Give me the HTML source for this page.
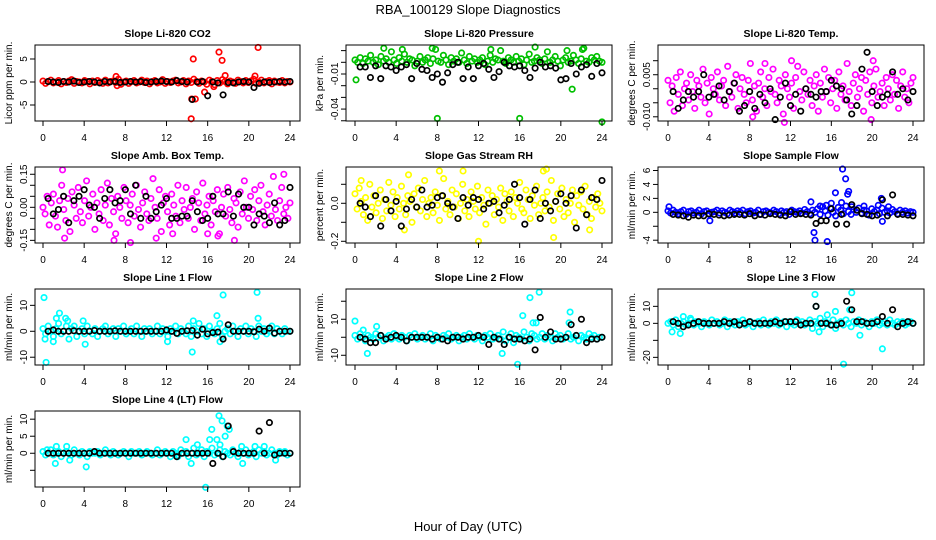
<!DOCTYPE html>
<html><head><meta charset="utf-8"><title>RBA_100129 Slope Diagnostics</title>
<style>
html,body{margin:0;padding:0;background:#fff;}
svg{display:block;font-family:"Liberation Sans",Arial,sans-serif;}
</style></head>
<body>
<svg id="chart" width="936" height="540" viewBox="0 0 936 540" xmlns="http://www.w3.org/2000/svg">
<rect width="936" height="540" fill="#fff"/>
<text x="468" y="14" text-anchor="middle" font-size="13">RBA_100129  Slope Diagnostics</text>
<text x="468" y="531" text-anchor="middle" font-size="13">Hour of Day (UTC)</text>
<g id="panels"></g>
</svg>
<script>
const xTicks = [0,4,8,12,16,20,24];

const co2Band = [0.2,-0.3,0.1,0.4,-0.2,0.0,0.3,-0.4,0.1,-0.1,0.2,0.5,-0.3,0.1,0.0,-0.2,0.3,0.1,-0.4,0.2,-0.1,0.3,0.0,-0.3,0.4,-0.2,0.1,0.2,-0.1,0.6,-0.5,0.0,0.2,-0.3,0.1,0.3,-0.2,0.0,0.4,-0.1,0.2,-0.4,0.1,0.3,-0.2,0.0,0.5,-0.3,0.1,-0.1,0.2,0.4,-0.2,0.0,0.3,-0.4,0.2,-0.1,0.6,0.1,-0.3,0.2,0.0,-0.5,0.4,0.1,-0.6,0.3,-0.2,0.5,0.1,-0.4,0.2,0.0,-0.3,0.4,0.1,-0.2,0.3,-0.1,0.2,0.6,-0.3,0.0,0.4,-0.2,0.1,0.3,-0.4,0.2,0.0,-0.1,0.3,-0.2,0.1,0.0];
const co2OutHours = [7.1,7.2,14.4,14.45,14.6,14.8,15.7,16.6,17.1,17.4,17.7,20.6,20.9];
const co2OutVals = [1.2,-0.8,-8,-3.7,5,-3.7,-2.2,-1,6.5,4.7,1.4,1.3,7.5];
const co2Black = [0.1,0,-0.1,0.1,0,0.2,-0.1,0, 0.1,0,-0.2,0.1,0,0.1,-0.1,0, 0.1,0,0.1,-0.1,0,0.1,0.2,0.1, 0,0.3,0.1,0,-3.8,0,0.1,-3, 0,-0.2,-2.8,-0.1,-0.2,0,0.1,0, -1.2,-0.3,0,-0.1,0,0.1,0,0.1];

const presBand = [2,0,4,-1,3,1,6,0,2,-2,5,1,3,0,9,2,-1,4,1,7,0,3,2,-3,1,5,0,2,4,-1,3,11,1,0,6,2,-2,4,1,3,0,8,2,-1,5,1,3,0,2,4,-2,1,6,0,3,2,10,1,-1,4,2,0,5,1,3,-2,2,7,0,1,4,2,-1,3,9,0,2,5,1,-3,2,4,0,1,6,2,-1,3,12,1,0,4,2,5,1,0];
const presOutHours = [0.1,8,16,24,21.1,17.5,22.1,20.6,2.8,7.5,13.2,4.6];
const presOutVals = [-15,-48,-48,-51,-23,13,11,10,12,12,11,11];
const presBlack = [-4,-4,-13,-3,-14,-3,-4,-7, -4,-2,-14,-1,-6,-7,-13,-10, -17,-9,-2,0,-14,-4,-14,-3, -1,-6,-13,-8,0,-3,-4,-3, -7,-13,-5,0,-4,-3,-5,-15, -14,-1,-10,-4,-2,-12,-1,-9];

const tempBand = [3,-5,1,-8,4,-2,6,-6,0,2,-4,5,-1,-7,3,1,-3,7,-5,2,-9,4,0,-2,6,-4,1,3,-6,8,-1,-3,2,5,-7,0,4,-2,-5,3,9,-4,1,-8,2,6,-3,0,-6,4,-1,7,-2,-5,3,1,-9,5,0,-3,2,-7,4,8,-1,-4,6,0,-2,3,-6,1,5,-8,2,-3,7,-1,4,-5,0,3,-7,6,-2,1,-4,9,-1,-6,2,5,-3,0,4,-8,3,-2,6,-5,1,7,-3,-1,2,-6,4,0,-4,5,-2,3,-7,1,6,-3,0,-5,2,4];
const tempOutHours = [11.4,12.1,9.5,20.1,19.9,8.3];
const tempOutVals = [-12,10,9,10,-11,-10];
const tempBlack = [-1,-7,-4,-1,-3,-1,5,-3, -2,1,-4,-1,2,-8,-6,-1, -7,-2,-5,0,-11,-3,2,-6, -2,-8,0,-2,-3,-1,-1,3, 1,0,-4,-9,-6,7,13,-1, -6,-3,-2,6,-2,0,-4,-1];

const ambBand = [0,-3,5,-8,2,6,-4,-9,3,10,-1,-6,4,-11,7,1,-5,9,-2,-7,3,12,-4,0,6,-10,2,-3,8,-6,1,11,-8,4,-2,-12,5,0,-5,9,3,-7,1,6,-4,10,-1,-9,2,7,-3,-6,4,13,0,-5,8,-11,2,5,-2,-8,6,1,-4,10,-7,3,-1,9,-5,0,4,-10,7,2,-6,11,-3,1,5,-8,3,-2,8,-12,0,6,-4,9,-1,-7,4,2,-9,7,-3,12,0,-5,5,-1,8,-6,3,10,-2,-8,1,6,-4,14,-1,-6,3,9,-3,0,-5,2];
const ambOutHours = [1.9,2.1,6.9,8.5,11,12.6,18.6,23.4,16,17];
const ambOutVals = [17,-14,-15,-16,-14,-12,-15,15,-12,-13];
const ambBlack = [4,-3,-1,5,-7,3,5,8, 1,0,-5,4,8,2,3,8, -3,10,-5,5,-5,-2,1,4, -5,-5,-4,-4,3,-2,-6,-5, 5,-3,-3,7,-4,6,0,0, -8,-3,-4,-7,2,-8,-6,9];

const rhBand = [5,-3,8,1,-6,3,-9,10,-2,4,-5,0,7,-8,2,-4,11,-1,6,-7,3,-3,9,0,-6,4,1,-10,5,-2,8,-4,2,12,-7,0,3,-5,6,-1,-9,4,13,-3,1,-6,7,-2,5,-8,0,10,-4,2,-7,6,1,-3,9,-5,3,-1,-11,7,0,4,-6,2,-2,8,-9,5,1,-4,6,-7,3,0,11,-3,-5,7,2,-8,4,-1,9,-6,0,3,-4,6,-2,12,-9,1,5,-3,8,-7,2,-5,0,7,-10,4,-1,6,-3,9,-6,1,-8,3,-2,5,0,-4];
const rhOutHours = [4.8,5.2,8.2,10.5,12.0,18.3,18.6,19.3,22.8,0.6];
const rhOutVals = [-14,15,17,17,-20,17,18,-18,-14,12];
const rhBlack = [0,-2,-7,4,-12,2,-4,1, -12,-3,2,-2,7,-2,-1,3, 4,0,-2,-8,3,-1,3,2, -3,0,1,-5,-1,2,10,3, -11,2,7,-8,0,-4,1,5, 0,4,-13,7,-6,3,2,12];

const sfBand = [0.2,-0.1,0.3,0,-0.2,0.1,0.3,-0.3,0.1,0.2,-0.1,0,0.3,-0.2,0.1,0.2,-0.3,0,0.1,0.3,-0.1,0.2,0,-0.2,0.3,0.1,-0.1,0.2,0,0.3,-0.2,0.1,0.2,-0.1,0,0.3,-0.3,0.1,0.2,0,-0.1,0.3,0.1,-0.2,0.2,0,0.1,-0.3,0.3,0.1,0,0.2,-0.1,0.4,0.1,-0.2,0.3,0,0.5,-0.3,0.8,0.2,-0.4,0.6,0,-0.5,0.7,0.3,-0.2,0.9,0.1,-0.3,0.4,0,0.6,-0.1,0.3,0.2,-0.4,0.5,0.1,0.3,-0.2,0.6,0,0.2,-0.1,0.4,0.1,-0.2,0.3,0,0.2,-0.1,0.1,0];
const sfOutHours = [0.1,4.1,14.0,14.3,14.4,15.5,15.6,16.0,16.4,17.0,17.1,17.4,17.6,17.7,18.0,19.2,20.6,20.9,21.0,21.6,14.9];
const sfOutVals = [0.8,-1.2,1.5,-2.9,-4,1.0,-4.2,1.3,2.8,1.4,6.2,4.8,2.6,3.0,0.8,0.9,1,2,-1.3,0.8,0.9];
const sfBlack = [-0.3,-0.4,-0.5,-0.7,-0.4,-0.5,-0.5,-0.2, -0.3,-0.4,-0.5,-0.4,-0.3,-0.3,-0.4,-0.2, -0.5,-0.3,-0.4,-0.2,-0.3,-0.4,-0.5,0.1, -0.3,-0.2,-0.3,-0.4,-1.6,-1.2,-1.2,0.5, -1.7,-0.3,-1.7,1.1,0.3,-0.2,-0.3,-0.5, -0.4,1.8,-0.5,2.5,-0.3,-0.3,-0.4,-0.5];

const l1Band = [1,-1,2,0,-2,1,3,-1,0,2,-3,1,2,-2,0,1,-1,2,0,-1,1,-2,0,1,2,-1,0,1,-2,1,0,2,-1,0,1,-1,2,0,-2,1,0,1,-1,0,2,-1,1,0,-2,1,0,2,-1,1,0,-1,2,-2,1,0,3,-1,1,-2,2,0,-1,1,3,-2,0,1,-1,2,0,-2,1,0,2,-1,1,0,-2,2,0,1,-1,0,2,-1,1,0,-1,1,0,0];
const l1OutHours = [0.1,0.2,0.3,1.3,1.6,2.2,2.4,3.9,4.1,1.0,14.5,12.1,16.9,17.5,20.8,20.9,17.2,14.6];
const l1OutVals = [13,-3,-12,5,7,5,4,4,-5,-4,-8,-4,6,14,15,5,-4,4];
const l1Black = [0,0.5,0,0,0,0.2,0,0, 0,0.3,0,0,0,0.2,0,0, 0,0,0,0,0,0,0,0.5, 0,-0.8,0,0.2,0.3,-1.5,0.8,-1, -0.5,-0.3,-3,2.5,0,0,0,0, -0.2,0.8,0,1.2,-0.7,0,0,0];

const l2Band = [1,-1,2,0,-2,1,0,-1,2,0,1,-2,0,1,-1,2,0,-1,1,0,-2,1,0,2,-1,0,1,-1,0,2,-2,1,0,-1,1,0,2,-1,0,1,-2,0,1,-1,2,0,-1,1,0,-2,1,0,2,-1,0,1,-1,3,-2,0,2,-3,1,0,-1,3,0,-2,2,1,-1,0,2,-1,1,0,-2,2,0,1,-1,0,2,-1,0,1,-2,1,0,-1,2,0,1,-1,0,0];
const l2OutHours = [0,1.2,2.1,14.3,15.8,16.3,17.0,17.3,17.6,17.9,20.8,20.9,0.8];
const l2OutVals = [9,-9,6,-9,-15,12,22,8,8,25,8,14,4];
const l2Black = [0,-1,-3,-3,1,-1,0,1, 0,-2,0,0,0,0,-1,0, -1,-2,0,0,-1,0,0,1, 0,-4,0,-1,-4,0,-1,-1, -2,-1,-7,11,0,3,-1,-1, 0,7,1,10,-3,-1,-1,0];

const l3Band = [0,1,-1,2,-2,0,1,-1,0,2,-1,1,0,-2,1,0,-1,2,0,1,-1,0,2,-2,1,0,-1,1,0,2,-1,0,1,-2,0,1,-1,2,0,-1,1,0,2,-1,0,1,-2,1,0,-1,2,0,1,-1,0,2,-3,1,0,3,-2,1,0,-1,2,-3,0,1,-1,2,0,-2,1,0,2,-1,1,0,-2,1,0,2,-1,0,1,-1,2,0,-1,1,0,1,-1,0,1,0];
const l3OutHours = [0.4,1.2,1.5,2.2,14.4,14.5,14.8,15.6,16.4,17.2,18.0,18.8,21.0,17.8];
const l3OutVals = [-5,-6,4,3,17,10,-5,5,7,-24,18,-7,-15,8];
const l3Black = [1,0,-2,-1,0,1,0,0, 0,0,1,0,1,-1,0,1, 0,0,0,0,1,0,1,1, 1,-1,0,0,10,0,0,-1, -1,0,13,8,1,1,0,0, 1,4,0,8,-2,0,1,0];

const l4Band = [0.5,-0.5,0,1,-0.5,0,0.5,-1,0,0.5,0,-0.5,1,0,-0.5,0.5,0,-1,0.5,0,0,0.5,-0.5,0,1,0,-0.5,0.5,0,-0.5,0,0.5,0,-1,0.5,0,0,0.5,-0.5,0,0.5,0,-0.5,0,1,-0.5,0,0.5,0,-1,0.5,0,-0.5,1,0,0.5,-1,0,1.5,-0.5,0,1,-1,0.5,0,1.5,-0.5,0,1,-1,0.5,0,-0.5,1,0,-1,0.5,0,1,-0.5,0,0.5,-1,1,0,0.5,-0.5,0,1,0,-0.5,0.5,0,0.5,-0.5,0];
const l4OutHours = [0.4,1.3,1.2,2.3,2.6,4.2,13.9,14.4,15.0,15.8,16.2,16.4,16.9,17.1,17.2,17.4,17.7,17.9,18.1,19.3,19.4,20.6,21.5,22.6,13.1];
const l4OutVals = [1,2,-3,2,-2,-4,4,-3,2.5,-10,4,7,4,11,2.5,9.5,5,8,7,2,-3,2,2,-2,-1];
const l4Black = [0,0,0,0,0,0,0,0, 0,0.5,0,0,0,0,0,0, 0,0,0,0,0,0,0,0, 0,-1,0,0,0,0,0,0, -3,0,-1,8,0.5,0,0,0, 0,6.5,0,9,-0.5,0,0,0];

const co2Ticks=[-5,0,5], co2Labels=["-5","0","5"];
const presTicks=[-50,-40,-30,-20,-10,0,10], presLabels=["","-0.04","","","-0.01","",""];
const tempTicks=[-10,-5,0,5,10], tempLabels=["-0.010","","","0.005",""];
const ambTicks=[-15,-10,-5,0,5,10,15], ambLabels=["-0.15","","","0.00","","","0.15"];
const rhTicks=[-20,-10,0,10], rhLabels=["-0.2","","0.0",""];
const sfTicks=[-4,-2,0,2,4,6], sfLabels=["-4","","0","2","4","6"];
const l1Ticks=[-10,0,10], l1Labels=["-10","0","10"];
const l2Ticks=[-10,0,10,20], l2Labels=["-10","","10",""];
const l3Ticks=[-20,-10,0,10], l3Labels=["-20","","0","10"];
const l4Ticks=[-10,-5,0,5,10], l4Labels=["-10","","0","5","10"];

const cols=[{L:35,R:300,x0:43,x24:290,yl:12},{L:346,R:612,x0:355,x24:602,yl:323},{L:658,R:924,x0:668,x24:913,yl:635}];
const rowTop=[45,167,289,411], boxH=76;
const panels=[
 {name:"co2",title:"Slope Li-820 CO2",ylab:"Licor ppm per min.",color:"#ff0000",dom:[-8.48,8.04],band:co2Band,oh:co2OutHours,ov:co2OutVals,blk:co2Black,ticks:co2Ticks,labels:co2Labels,r:0,c:0},
 {name:"pressure",title:"Slope Li-820 Pressure",ylab:"kPa per min.",color:"#00c000",dom:[-50.2,14.8],band:presBand,oh:presOutHours,ov:presOutVals,blk:presBlack,ticks:presTicks,labels:presLabels,r:0,c:1},
 {name:"li820-temp",title:"Slope Li-820 Temp.",ylab:"degrees C per min.",color:"#ff00ff",dom:[-11.5,15.6],band:tempBand,oh:tempOutHours,ov:tempOutVals,blk:tempBlack,ticks:tempTicks,labels:tempLabels,r:0,c:2},
 {name:"amb-box-temp",title:"Slope Amb. Box Temp.",ylab:"degrees C per min.",color:"#ff00ff",dom:[-16.2,18.3],band:ambBand,oh:ambOutHours,ov:ambOutVals,blk:ambBlack,ticks:ambTicks,labels:ambLabels,r:1,c:0},
 {name:"gas-stream-rh",title:"Slope Gas Stream RH",ylab:"percent per min.",color:"#ffff00",dom:[-20.9,19.1],band:rhBand,oh:rhOutHours,ov:rhOutVals,blk:rhBlack,ticks:rhTicks,labels:rhLabels,r:1,c:1},
 {name:"sample-flow",title:"Slope Sample Flow",ylab:"ml/min per min.",color:"#0000ff",dom:[-4.4,6.5],band:sfBand,oh:sfOutHours,ov:sfOutVals,blk:sfBlack,ticks:sfTicks,labels:sfLabels,r:1,c:2},
 {name:"line1-flow",title:"Slope Line 1 Flow",ylab:"ml/min per min.",color:"#00ffff",dom:[-13,16.3],band:l1Band,oh:l1OutHours,ov:l1OutVals,blk:l1Black,ticks:l1Ticks,labels:l1Labels,r:2,c:0},
 {name:"line2-flow",title:"Slope Line 2 Flow",ylab:"ml/min per min.",color:"#00ffff",dom:[-15.4,26.8],band:l2Band,oh:l2OutHours,ov:l2OutVals,blk:l2Black,ticks:l2Ticks,labels:l2Labels,r:2,c:1},
 {name:"line3-flow",title:"Slope Line 3 Flow",ylab:"ml/min per min.",color:"#00ffff",dom:[-24.5,20.2],band:l3Band,oh:l3OutHours,ov:l3OutVals,blk:l3Black,ticks:l3Ticks,labels:l3Labels,r:2,c:2},
 {name:"line4-flow",title:"Slope Line 4 (LT) Flow",ylab:"ml/min per min.",color:"#00ffff",dom:[-9.9,12.4],band:l4Band,oh:l4OutHours,ov:l4OutVals,blk:l4Black,ticks:l4Ticks,labels:l4Labels,r:3,c:0}
];

const NS="http://www.w3.org/2000/svg";
function mk(tag,attrs,parent){const e=document.createElementNS(NS,tag);for(const k in attrs)e.setAttribute(k,attrs[k]);parent.appendChild(e);return e;}
const root=document.getElementById("panels");

panels.forEach(p=>{
  const col=cols[p.c], T=rowTop[p.r], B=T+boxH;
  const xs=h=>col.x0+(col.x24-col.x0)*h/24;
  const ys=v=>B-(v-p.dom[0])/(p.dom[1]-p.dom[0])*boxH;
  const g=mk("g",{},root);
  
  
  const t=mk("text",{x:(col.L+col.R)/2,y:T-8,"text-anchor":"middle","font-size":"10.5","font-weight":"bold"},g);
  t.textContent=p.title;
  
  
  const yl=mk("text",{x:col.yl,y:(T+B)/2,"text-anchor":"middle","font-size":"10",transform:`rotate(-90 ${col.yl} ${(T+B)/2})`},g);
  yl.textContent=p.ylab;
  
  
  const pts=mk("g",{fill:"none","stroke-width":"1.7"},g);
  
  
  const n=p.band.length;
  p.band.forEach((v,i)=>{
    const c=mk("circle",{cx:xs(i*24/(n-1)),cy:ys(v),r:2.7,stroke:p.color},pts);
    
    
  });
  p.oh.forEach((h,i)=>{
    const c=mk("circle",{cx:xs(h),cy:ys(p.ov[i]),r:2.7,stroke:p.color},pts);
    
    
  });
  p.blk.forEach((v,i)=>{
    const c=mk("circle",{cx:xs((i+1)*0.5),cy:ys(v),r:2.7,stroke:"#000"},pts);
    
    
  });
  const bx=mk("rect",{x:col.L,y:T,width:col.R-col.L,height:boxH,fill:"none",stroke:"#000","stroke-width":"1"},g);
  
  
  const xa=mk("g",{stroke:"#000","stroke-width":"1"},g);
  
  
  mk("line",{x1:xs(xTicks[0]),x2:xs(xTicks[xTicks.length-1]),y1:B,y2:B},xa);
  xTicks.forEach(h=>{
    mk("line",{x1:xs(h),x2:xs(h),y1:B,y2:B+5},xa);
    const tl=mk("text",{x:xs(h),y:B+20,"text-anchor":"middle","font-size":"10",stroke:"none",fill:"#000"},xa);
    tl.textContent=h;
    
    
  });
  const ya=mk("g",{stroke:"#000","stroke-width":"1"},g);
  
  
  const tk=p.ticks.filter(v=>v>=p.dom[0]&&v<=p.dom[1]);
  mk("line",{x1:col.L,x2:col.L,y1:ys(tk[0]),y2:ys(tk[tk.length-1])},ya);
  p.ticks.forEach((v,i)=>{
    if(v<p.dom[0]||v>p.dom[1])return;
    mk("line",{x1:col.L-5,x2:col.L,y1:ys(v),y2:ys(v)},ya);
    if(!p.labels[i])return;
    const lx=col.L-8;
    const tl=mk("text",{x:lx,y:ys(v),"text-anchor":"middle","font-size":"10",stroke:"none",fill:"#000",transform:`rotate(-90 ${lx} ${ys(v)})`},ya);
    tl.textContent=p.labels[i];
    
    
  });
});
</script>
</body></html>
